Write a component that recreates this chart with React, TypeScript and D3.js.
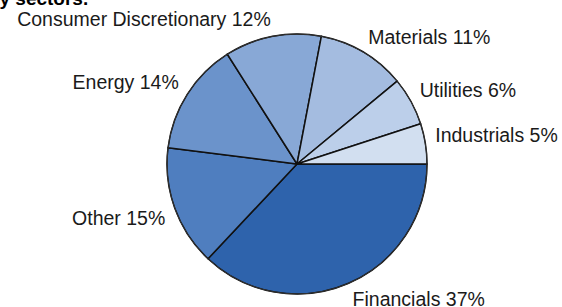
import React from "react";
import * as d3 from "d3";

const sectors = ["Financials", "Other", "Energy", "Consumer Discretionary", "Materials", "Utilities", "Industrials"];
const shares = [37, 15, 14, 12, 11, 6, 5];
const colors = ["#2E63AC", "#4F7EBF", "#6B93CB", "#88A8D6", "#A4BCE0", "#BCCFEA", "#D2DFF0"];
const titleText = "y sectors.";

const W = 562;
const H = 307;
const cx = 297;
const cy = 164;
const R = 130;
const labelR = 140;
const fontSize = 19.5;
const capH = 14;

export default function App() {
  const data = sectors.map((s, i) => ({ name: s, value: shares[i], color: colors[i] }));
  const pie = d3
    .pie<any>()
    .value((d: any) => d.value)
    .sort(null)
    .startAngle(Math.PI / 2)
    .endAngle(Math.PI / 2 + 2 * Math.PI);
  const arcs = pie(data);
  const arc = d3.arc<any>().innerRadius(0).outerRadius(R);

  return (
    <svg
      width={W}
      height={H}
      viewBox={`0 0 ${W} ${H}`}
      style={{ position: "absolute", left: 0, top: 0, background: "#fff" }}
    >
      <text
        x={-0.5}
        y={5}
        fontFamily="'Liberation Sans', Arial, sans-serif"
        fontWeight="bold"
        fontSize={19}
        fill="#000"
      >
        {titleText}
      </text>
      <g transform={`translate(${cx},${cy})`}>
        {arcs.map((a, i) => (
          <path key={i} d={arc(a) as string} fill={a.data.color} stroke="#111" strokeWidth={1.5} strokeLinejoin="round" />
        ))}
        <circle r={R} fill="none" stroke="#333" strokeWidth={1} />
        {arcs.map((a, i) => {
          const mid = (a.startAngle + a.endAngle) / 2;
          const x = labelR * Math.sin(mid);
          const yy = -labelR * Math.cos(mid);
          const lower = Math.cos(mid) < 0;
          const right = Math.sin(mid) >= 0;
          return (
            <text
              key={"l" + i}
              x={x}
              y={lower ? yy + capH : yy}
              textAnchor={right ? "start" : "end"}
              fontFamily="'Liberation Sans', Arial, sans-serif"
              fontSize={fontSize}
              fill="#1a1a1a"
            >
              {`${a.data.name} ${a.data.value}%`}
            </text>
          );
        })}
      </g>
    </svg>
  );
}
